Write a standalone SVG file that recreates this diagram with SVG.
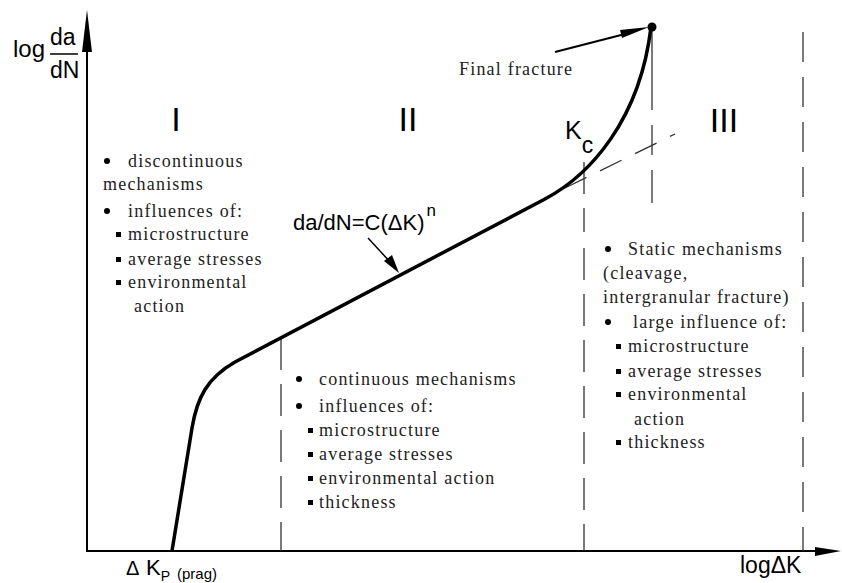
<svg xmlns="http://www.w3.org/2000/svg" width="842" height="583" viewBox="0 0 842 583">
<style>
.s{font-family:"Liberation Serif","Times New Roman",serif;font-size:18px;letter-spacing:1.2px;fill:#222}
.a{font-family:"Liberation Sans",Arial,sans-serif;fill:#000}
.d{stroke:#333;stroke-width:1.3;fill:none}
.ax{stroke:#000;stroke-width:2;fill:none}
.b{fill:#000}
</style>
<rect width="842" height="583" fill="#fff"/>
<g id="axes">
<line class="ax" x1="87" y1="551" x2="87" y2="20"/>
<polygon class="b" points="87,10 82,52 92,52"/>
<line class="ax" x1="86" y1="551" x2="820" y2="551"/>
<polygon class="b" points="815,547 815,556 841,551"/>
<text class="a" x="13" y="57" font-size="24">log</text>
<text class="a" x="50" y="45" font-size="23">da</text>
<line x1="50" y1="54" x2="78" y2="54" stroke="#000" stroke-width="1.5"/>
<text class="a" x="50" y="78" font-size="23">dN</text>
<text class="a" x="740" y="573" font-size="23">logΔK</text>
<text class="a" x="126" y="575" font-size="20">Δ</text>
<text class="a" x="146" y="575" font-size="22">K<tspan font-size="14" dy="6">P</tspan><tspan font-size="15" dx="7" dy="-2">(prag)</tspan></text>
</g>
<g id="guides">
<line class="d" x1="281" y1="338" x2="281" y2="551" stroke-dasharray="32 14"/>
<path class="d" d="M584,162 V232 M584,248 V551" stroke-dasharray="32 14"/>
<path class="d" d="M652,30 V110 M652,125 V155 M652,170 V203"/>
<line class="d" x1="803" y1="32" x2="803" y2="551" stroke-dasharray="30 15"/>
<line class="d" x1="565" y1="188" x2="675" y2="134" stroke-width="1" stroke-dasharray="24 15"/>
</g>
<g id="curve">
<path d="M172,551 L192,428 C197,398 207,378 235,362 L545,199 C590,175 640,120 651,27" fill="none" stroke="#000" stroke-width="3.5"/>
<circle cx="652" cy="27" r="4.5" fill="#000"/>
</g>
<g id="region-labels">
<text class="a" x="176" y="131" font-size="34" text-anchor="middle">I</text>
<text class="a" x="408" y="131" font-size="34" text-anchor="middle">II</text>
<text class="a" x="724" y="132" font-size="34" text-anchor="middle">III</text>
<text class="a" x="565" y="139" font-size="25">K<tspan font-size="23" dy="14">c</tspan></text>
</g>
<g id="equation">
<text class="a" x="293" y="230" font-size="22">da/dN=C(ΔK)<tspan font-size="17" dx="2" dy="-14">n</tspan></text>
</g>
<g id="final-fracture">
<text class="s" x="459" y="75" font-size="17">Final fracture</text>
</g>
<g id="region-I">
<circle class="b" cx="107" cy="161" r="3"/>
<text class="s" x="128" y="167">discontinuous</text>
<text class="s" x="103" y="190">mechanisms</text>
<circle class="b" cx="107" cy="211" r="3"/>
<text class="s" x="128" y="217">influences of:</text>
<rect class="b" x="116" y="232" width="5" height="5"/>
<text class="s" x="128" y="240">microstructure</text>
<rect class="b" x="116" y="257" width="5" height="5"/>
<text class="s" x="128" y="265">average stresses</text>
<rect class="b" x="116" y="280" width="5" height="5"/>
<text class="s" x="128" y="288">environmental</text>
<text class="s" x="134" y="312">action</text>
</g>
<g id="region-II">
<circle class="b" cx="299" cy="379" r="3"/>
<text class="s" x="319" y="385">continuous mechanisms</text>
<circle class="b" cx="299" cy="406" r="3"/>
<text class="s" x="319" y="412">influences of:</text>
<rect class="b" x="308" y="428" width="5" height="5"/>
<text class="s" x="319" y="436">microstructure</text>
<rect class="b" x="308" y="452" width="5" height="5"/>
<text class="s" x="319" y="460">average stresses</text>
<rect class="b" x="308" y="476" width="5" height="5"/>
<text class="s" x="319" y="484">environmental action</text>
<rect class="b" x="308" y="500" width="5" height="5"/>
<text class="s" x="319" y="508">thickness</text>
</g>
<g id="region-III">
<circle class="b" cx="608" cy="249" r="3"/>
<text class="s" x="628" y="255">Static mechanisms</text>
<text class="s" x="603" y="279">(cleavage,</text>
<text class="s" x="603" y="303">intergranular fracture)</text>
<circle class="b" cx="608" cy="322" r="3"/>
<text class="s" x="633" y="328">large influence of:</text>
<rect class="b" x="616" y="344" width="5" height="5"/>
<text class="s" x="628" y="352">microstructure</text>
<rect class="b" x="616" y="369" width="5" height="5"/>
<text class="s" x="628" y="377">average stresses</text>
<rect class="b" x="616" y="392" width="5" height="5"/>
<text class="s" x="628" y="400">environmental</text>
<text class="s" x="634" y="425">action</text>
<rect class="b" x="616" y="440" width="5" height="5"/>
<text class="s" x="628" y="448">thickness</text>
</g>
<g id="connectors">
<line x1="555" y1="52" x2="625" y2="34" stroke="#000" stroke-width="2"/>
<polygon class="b" points="649,27 620,30 622,38"/>
<line x1="368" y1="238" x2="392" y2="264" stroke="#000" stroke-width="1.5"/>
<polygon class="b" points="399,273 384,261 392,255"/>
</g>
</svg>
